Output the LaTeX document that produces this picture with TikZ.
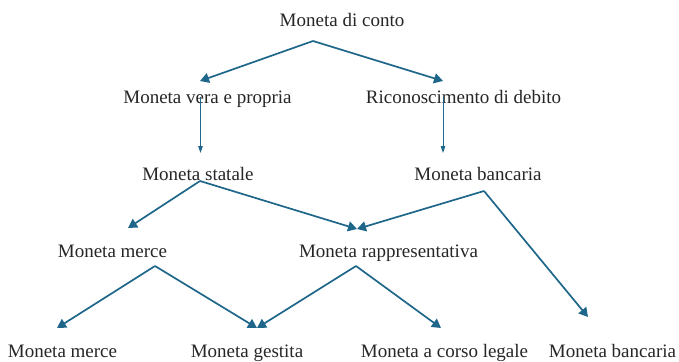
\documentclass[tikz,border=0pt]{standalone}
\usepackage{fontspec}
\setmainfont{Liberation Serif}
\usetikzlibrary{arrows.meta}
\definecolor{arrblue}{RGB}{30,102,138}
\tikzset{
  lbl/.style={anchor=base, inner sep=0pt, font=\fontsize{19}{21}\selectfont, text=black!85},
  bigarr/.style={draw=arrblue, line width=1.7pt, -{Triangle[length=9pt,width=10pt]}},
  smallarr/.style={draw=arrblue, line width=1pt, -{Triangle[length=7pt,width=4.5pt]}}
}
\begin{document}
\begin{tikzpicture}[x=1pt,y=-1pt]
\useasboundingbox (0,0) rectangle (679,361);
% labels
\node[lbl] (conto) at (342,27) {Moneta di conto};
\node[lbl] (vera) at (207.5,103) {Moneta vera e propria};
\node[lbl] (ricon) at (463.5,103) {Riconoscimento di debito};
\node[lbl] (statale) at (198,180) {Moneta statale};
\node[lbl] (banca) at (478,180) {Moneta bancaria};
\node[lbl] (merce) at (112.5,257) {Moneta merce};
\node[lbl] (rappr) at (388.5,257) {Moneta rappresentativa};
\node[lbl] (merceb) at (62.5,357) {Moneta merce};
\node[lbl] (gestita) at (247,357) {Moneta gestita};
\node[lbl] (corso) at (444.5,357) {Moneta a corso legale};
\node[lbl] (bancab) at (612.5,357) {Moneta bancaria};
% connector points
\coordinate (conto-o) at (313,41);
\coordinate (vera-i) at (200,81);
\coordinate (ricon-i) at (443,81);
\coordinate (vera-o) at (200.5,97);
\coordinate (statale-i) at (200.5,153);
\coordinate (ricon-o) at (443,97);
\coordinate (banca-i) at (443,153);
\coordinate (statale-o) at (200,181);
\coordinate (merce-i) at (128,228);
\coordinate (rappr-i) at (357,229);
\coordinate (banca-o) at (484,191);
\coordinate (bancab-i) at (588,317);
\coordinate (merce-o) at (155,266);
\coordinate (rappr-o) at (356,266);
\coordinate (merceb-i) at (57,328);
\coordinate (gestita-i) at (257,328);
\coordinate (corso-i) at (441,328);
% connectors
\draw[bigarr] (conto-o) -- (vera-i);
\draw[bigarr] (conto-o) -- (ricon-i);
\draw[smallarr] (vera-o) -- (statale-i);
\draw[smallarr] (ricon-o) -- (banca-i);
\draw[bigarr] (statale-o) -- (merce-i);
\draw[bigarr] (statale-o) -- (rappr-i);
\draw[bigarr] (banca-o) -- (rappr-i);
\draw[bigarr] (banca-o) -- (bancab-i);
\draw[bigarr] (merce-o) -- (merceb-i);
\draw[bigarr] (merce-o) -- (gestita-i);
\draw[bigarr] (rappr-o) -- (gestita-i);
\draw[bigarr] (rappr-o) -- (corso-i);
\end{tikzpicture}
\end{document}
